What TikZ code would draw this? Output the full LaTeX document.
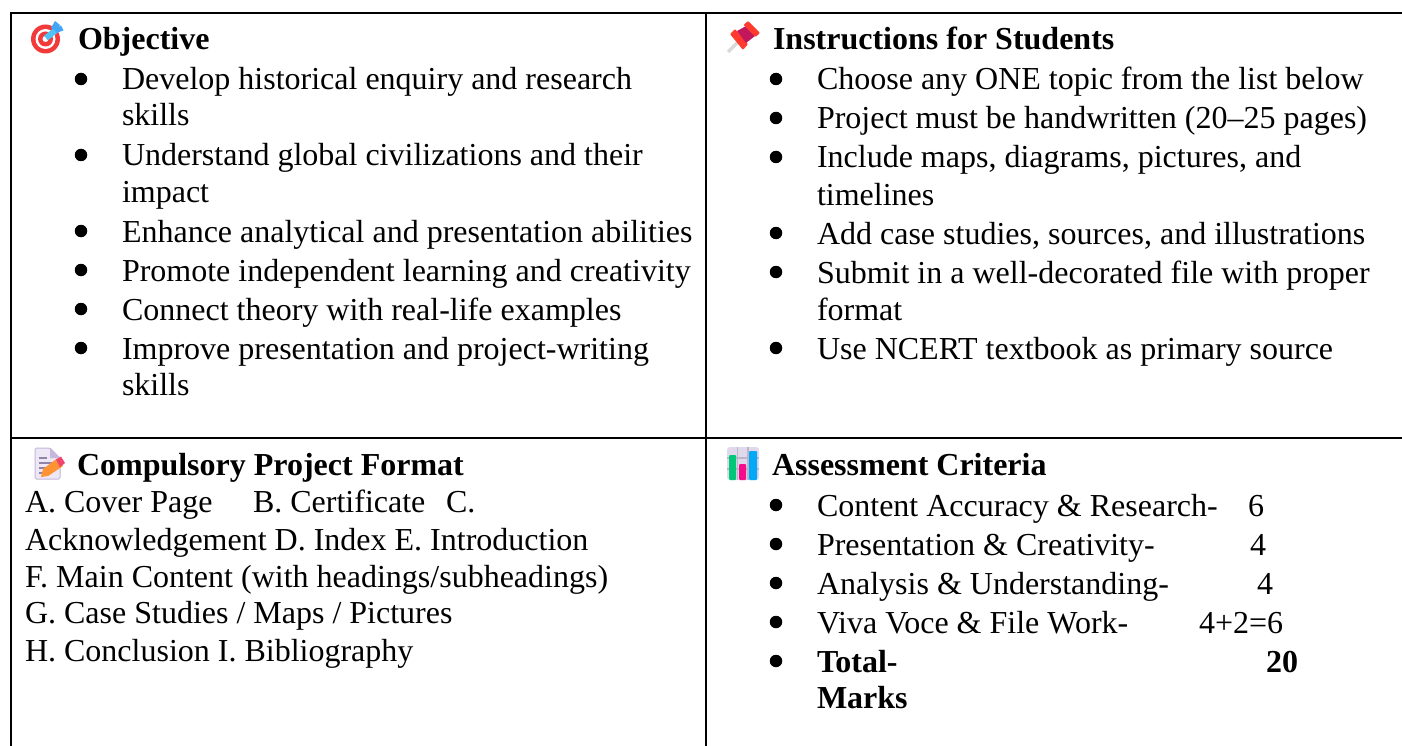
\documentclass[tikz,border=0pt]{standalone}
\usepackage{fontspec}
\setmainfont{Liberation Serif}
\definecolor{tred}{HTML}{F23A3A}
\definecolor{tblue}{HTML}{4FC3F7}
\definecolor{tdart}{HTML}{42A5F5}
\definecolor{pinred}{HTML}{FF3B30}
\definecolor{pindark}{HTML}{C2185B}
\definecolor{pingray}{HTML}{D9D9D9}
\definecolor{docfill}{HTML}{EDE7F6}
\definecolor{docedge}{HTML}{C5B8DC}
\definecolor{docline}{HTML}{8E84A8}
\definecolor{pencil}{HTML}{FF9233}
\definecolor{eraser}{HTML}{F0466E}
\definecolor{chartbg}{HTML}{E0D9EC}
\definecolor{chartgrid}{HTML}{BDB5CC}
\definecolor{bargreen}{HTML}{00C878}
\definecolor{barpink}{HTML}{F50E8C}
\definecolor{barblue}{HTML}{03A9F4}
\tikzset{
  x=1pt,y=-1pt,
  txt/.style={anchor=base west,inner sep=0pt,outer sep=0pt,font=\fontsize{32}{32}\selectfont},
  head/.style={txt,font=\fontsize{32}{32}\selectfont\bfseries},
  dot/.style={circle,fill=black,inner sep=0pt,minimum size=12.5pt},
  rule/.style={draw=black,line width=2.6pt,line cap=butt}
}
\begin{document}
\begin{tikzpicture}
\useasboundingbox (0,0) rectangle (1402,746);
\fill[white] (0,0) rectangle (1402,746);
% table rules
\draw[rule] (11,746) -- (11,13) -- (1402,13);
\draw[rule] (706,13) -- (706,746);
\draw[rule] (11,438) -- (1402,438);
% --- target icon
\fill[tred] (45.5,39) circle (14.5);
\fill[white] (45.5,39) circle (10);
\fill[tred] (45.5,39) circle (7.5);
\fill[white] (45.5,39) circle (3);
\draw[tblue,line width=6pt] (46,38) -- (58,28.5);
\fill[tdart] (51,28) -- (55,21) -- (60,25) -- (56,31) -- cycle;
\fill[tdart] (56,33) -- (63.5,30.5) -- (61,25.5) -- (55,29) -- cycle;
% --- pin icon
\draw[pingray,line width=3.4pt] (728,52) -- (741,39);
\fill[pinred,rounded corners=1pt] (730,34) -- (735,29) -- (748,44) -- (743,50) -- cycle;
\fill[pindark] (737,31) -- (748,25) -- (755,36) -- (746,43) -- cycle;
\fill[pinred,rounded corners=1pt] (743.5,25) -- (748,21) -- (760,33) -- (755.5,37) -- cycle;
% --- document icon
\fill[docfill,draw=docedge,line width=1pt,rounded corners=1.5pt] (35,448) -- (50,448) -- (60,458) -- (60,479) -- (35,479) -- cycle;
\fill[docedge] (50,448) -- (60,458) -- (50,458) -- cycle;
\foreach \yy/\xe in {458/47,463/55,468/53,473/46}{\draw[docline,line width=2pt] (39,\yy) -- (\xe,\yy);}
\fill[pencil] (41,477) -- (43,469) -- (57,458.5) -- (63,466) -- (48,476) -- cycle;
\fill[eraser] (56,459.5) -- (61,456.5) -- (65,463) -- (60,467) -- cycle;
% --- chart icon
\fill[chartbg,rounded corners=3pt] (727,447) rectangle (759,480);
\draw[chartgrid,line width=1.4pt] (737.5,447) -- (737.5,480) (748,447) -- (748,480) (727,458) -- (759,458) (727,469) -- (759,469);
\fill[bargreen,rounded corners=1pt] (729,455) rectangle (736,480);
\fill[barpink,rounded corners=1pt] (739,464) rectangle (746,480);
\fill[barblue,rounded corners=1pt] (749,451) rectangle (757,480);
% --- Objective
\node[head] (objh) at (78,50) {Objective};
\node[dot] (ob1) at (81,79) {};
\node[txt] (ot1) at (122,90) {Develop historical enquiry and research};
\node[txt] (ot1b) at (122,126) {skills};
\node[dot] (ob2) at (81,155) {};
\node[txt] (ot2) at (122,166) {Understand global civilizations and their};
\node[txt] (ot2b) at (122,203) {impact};
\node[dot] (ob3) at (81,231) {};
\node[txt] (ot3) at (122,242) {Enhance analytical and presentation abilities};
\node[dot] (ob4) at (81,270) {};
\node[txt] (ot4) at (122,281) {Promote independent learning and creativity};
\node[dot] (ob5) at (81,309) {};
\node[txt] (ot5) at (122,320) {Connect theory with real-life examples};
\node[dot] (ob6) at (81,348) {};
\node[txt] (ot6) at (122,359) {Improve presentation and project-writing};
\node[txt] (ot6b) at (122,395) {skills};
% --- Instructions
\node[head] (insh) at (773,50) {Instructions for Students};
\node[dot] (ib1) at (776,79) {};
\node[txt] (it1) at (817,90) {Choose any ONE topic from the list below};
\node[dot] (ib2) at (776,118) {};
\node[txt] (it2) at (817,129) {Project must be handwritten (20–25 pages)};
\node[dot] (ib3) at (776,157) {};
\node[txt] (it3) at (817,168) {Include maps, diagrams, pictures, and};
\node[txt] (it3b) at (817,205) {timelines};
\node[dot] (ib4) at (776,233) {};
\node[txt] (it4) at (817,244) {Add case studies, sources, and illustrations};
\node[dot] (ib5) at (776,272) {};
\node[txt] (it5) at (817,283) {Submit in a well-decorated file with proper};
\node[txt] (it5b) at (817,320) {format};
\node[dot] (ib6) at (776,348) {};
\node[txt] (it6) at (817,359) {Use NCERT textbook as primary source};
% --- Format
\node[head] (fmth) at (77,475) {Compulsory Project Format};
\node[txt] (f1) at (25,512) {A. Cover Page};
\node[txt] (f1b) at (253,512) {B. Certificate};
\node[txt] (f1c) at (446,512) {C.};
\node[txt] (f2) at (25,550) {Acknowledgement D. Index E. Introduction};
\node[txt] (f3) at (25,587) {F. Main Content (with headings/subheadings)};
\node[txt] (f4) at (25,623) {G. Case Studies / Maps / Pictures};
\node[txt] (f5) at (25,661) {H. Conclusion I. Bibliography};
% --- Assessment
\node[head] (assh) at (772,475) {Assessment Criteria};
\node[dot] (ab1) at (776,505) {};
\node[txt] (at1) at (817,516) {Content Accuracy \& Research-};
\node[txt] (am1) at (1248,516) {6};
\node[dot] (ab2) at (776,544) {};
\node[txt] (at2) at (817,555) {Presentation \& Creativity-};
\node[txt] (am2) at (1250,555) {4};
\node[dot] (ab3) at (776,583) {};
\node[txt] (at3) at (817,594) {Analysis \& Understanding-};
\node[txt] (am3) at (1257,594) {4};
\node[dot] (ab4) at (776,622) {};
\node[txt] (at4) at (817,633) {Viva Voce \& File Work-};
\node[txt] (am4) at (1199,633) {4+2=6};
\node[dot] (ab5) at (776,661) {};
\node[head] (at5) at (817,672) {Total-};
\node[head] (am5) at (1266,672) {20};
\node[head] (at5b) at (817,708) {Marks};
\end{tikzpicture}
\end{document}
